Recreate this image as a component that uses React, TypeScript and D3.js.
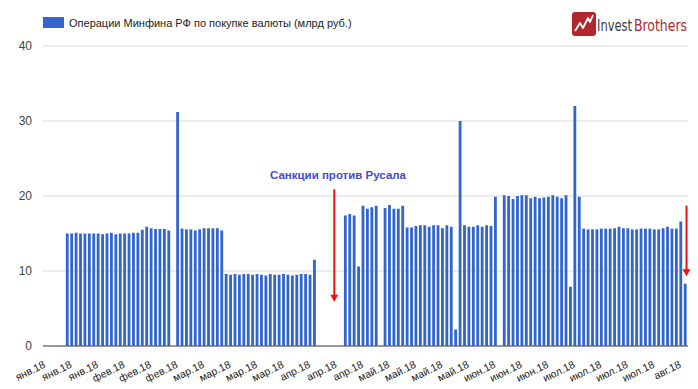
import React from 'react';
import * as d3 from 'd3';

// daily purchases, bn rub, one entry per business day from 9 Jan 2018 (null = no operation)
const purchases: (number | null)[] = [
  null, null, null, null,
  15.0, 15.0, 15.1, 15.0, 15.0, 15.0, 15.0, 15.0, 14.9, 15.0, 15.1, 14.9,
  15.0, 15.0, 15.0, 15.1, 15.1, 15.5, 15.9, 15.7, 15.6, 15.6, 15.6, 15.4,
  null, 31.2,
  15.65, 15.55, 15.55, 15.4, 15.55, 15.7, 15.7, 15.7, 15.7, 15.4,
  9.6, 9.5, 9.6, 9.5, 9.6, 9.6, 9.5, 9.6, 9.5, 9.4,
  9.6, 9.5, 9.5, 9.6, 9.5, 9.4, 9.5, 9.6, 9.6, 9.5,
  11.5,
  null, null, null, null, null, null,
  17.4, 17.6, 17.4, 10.6, 18.7, 18.3, 18.5, 18.7,
  null,
  18.4, 18.8, 18.3, 18.3, 18.7,
  15.8, 15.8, 16.0, 16.1, 16.1, 15.9, 16.1, 16.1, 15.7, 16.1, 15.9,
  2.2, 30.0,
  16.1, 15.9, 15.9, 16.1, 15.9, 16.1, 16.0,
  19.9,
  null,
  20.1, 20.0, 19.6, 20.0, 20.1, 20.1, 19.7, 19.9, 19.7, 19.8, 19.9, 20.1, 19.9, 19.7, 20.1,
  7.9, 32.0, 19.9,
  15.65, 15.55, 15.55, 15.55, 15.65, 15.65, 15.65, 15.7, 15.9, 15.7, 15.7, 15.55,
  15.55, 15.65, 15.65, 15.65, 15.55, 15.55, 15.7, 15.9, 15.65, 15.65, 16.6,
  8.3,
];

// one label every 6 business days
const tickLabels = [
  'янв.18', 'янв.18', 'янв.18', 'фев.18', 'фев.18', 'фев.18', 'мар.18', 'мар.18', 'мар.18',
  'мар.18', 'апр.18', 'апр.18', 'апр.18', 'май.18', 'май.18', 'май.18', 'май.18', 'июн.18',
  'июн.18', 'июн.18', 'июл.18', 'июл.18', 'июл.18', 'июл.18', 'авг.18',
];
const tickStep = 6;

const yTicks = [0, 10, 20, 30, 40];

const legendLabel = 'Операции Минфина РФ по покупке валюты (млрд руб.)';
const noteLabel = 'Санкции против Русала';

// red arrows: [day index, from value, to value]
const arrows: [number, number, number][] = [
  [64.5, 20.9, 5.9],
  [144.3, 18.7, 9.3],
];

const W = 698;
const H = 389;
const FONT = "Arial, 'Liberation Sans', sans-serif";
const LOGO_FONT = "'Liberation Sans Narrow', 'DejaVu Sans Condensed', sans-serif";
const BLUE = '#3366cc';
const RED = '#ee1111';

export default function App() {
  const idx = d3.range(purchases.length);

  const x = d3.scaleBand<number>()
    .domain(idx)
    .range([47.4, 687.4])
    .paddingInner(0.36)
    .paddingOuter(0.18);

  const y = d3.scaleLinear().domain([0, 40]).range([346, 46]);

  const cx = (i: number) => (x(Math.floor(i)) as number) + x.bandwidth() / 2 + (i % 1) * x.step();

  return (
    <svg width={W} height={H} style={{ position: 'absolute', left: 0, top: 0, background: '#fff' }} fontFamily={FONT}>
      <rect width={W} height={H} fill="#fff" />

      {/* gridlines */}
      {yTicks.map(t => (
        <g key={t}>
          <line x1={43} x2={688} y1={y(t)} y2={y(t)} stroke={t === 0 ? '#333' : '#d9d9d9'} strokeWidth={1} />
          <text x={32} y={y(t)} dy="0.35em" textAnchor="end" fontSize={12} fill="#444">{t}</text>
        </g>
      ))}

      {/* bars */}
      {purchases.map((v, i) =>
        v == null ? null : (
          <rect key={i} x={x(i)} y={y(v)} width={x.bandwidth()} height={y(0) - y(v)} fill={BLUE} />
        )
      )}

      {/* x labels */}
      {tickLabels.map((l, k) => {
        const tx = cx(k * tickStep);
        return (
          <text key={k} transform={`translate(${tx - 3.5},${367}) rotate(-26)`} textAnchor="end" fontSize={10.5} fill="#222">{l}</text>
        );
      })}

      {/* legend */}
      <rect x={43} y={17} width={21} height={11} fill={BLUE} />
      <text x={69} y={26.5} fontSize={11} fill="#222">{legendLabel}</text>

      {/* annotation */}
      <text x={338} y={179} textAnchor="middle" fontSize={11.5} fontWeight="bold" fill="#4848d0">{noteLabel}</text>
      {arrows.map(([i, a, b], k) => {
        const ax = cx(i);
        return (
          <g key={k}>
            <line x1={ax} x2={ax} y1={y(a)} y2={y(b) - 6} stroke={RED} strokeWidth={2} />
            <path d={`M${ax - 4},${y(b) - 7} L${ax + 4},${y(b) - 7} L${ax},${y(b)} Z`} fill={RED} />
          </g>
        );
      })}

      {/* logo */}
      <g>
        <rect x={572} y={12} width={24} height={24} rx={3} fill="#b3262d" />
        <path d="M575,31 L580,23 L583,28 L588,18 L590,22 L593,15" fill="none" stroke="#fff" strokeWidth={1.8} strokeLinejoin="round" />
        <text x={597} y={31} fontSize={15} fontFamily={LOGO_FONT} fill="#3a3a3a" textLength={35} lengthAdjust="spacingAndGlyphs">Invest</text>
        <text x={634} y={31} fontSize={15} fontFamily={LOGO_FONT} fill="#b3262d" textLength={53} lengthAdjust="spacingAndGlyphs">Brothers</text>
      </g>
    </svg>
  );
}
